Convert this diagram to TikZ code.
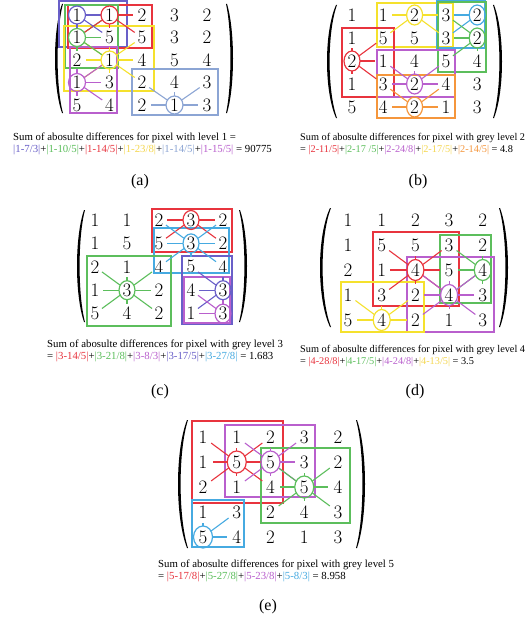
\documentclass[tikz,border=0pt]{standalone}
\usepackage{fontspec}
\newfontfamily\capfam{Liberation Serif}
\usetikzlibrary{shapes.geometric}

\definecolor{cRed}{RGB}{232,52,62}
\definecolor{cGreen}{RGB}{92,190,92}
\definecolor{cYellow}{RGB}{245,225,45}
\definecolor{cYellowText}{RGB}{245,215,80}
\definecolor{cSlate}{RGB}{105,95,200}
\definecolor{cSteel}{RGB}{140,165,212}
\definecolor{cPurple}{RGB}{185,95,205}
\definecolor{cSky}{RGB}{70,170,225}
\definecolor{cOrange}{RGB}{245,150,60}

% 5x5 grey-level matrix, one ellipse-shaped node per entry: #1 prefix, #2/#3 first entry, #4/#5 spacing
\newcommand\panel[5]{%
  \foreach \row [count=\r] in {{1,1,2,3,2},{1,5,5,3,2},{2,1,4,5,4},{1,3,2,4,3},{5,4,2,1,3}}{%
    \foreach \v [count=\c] in \row {%
      \node[digit] (#1-\r-\c) at ({#2+(\c-1)*#4},{#3+(\r-1)*#5}) {\v};
    }}}
% connectors from a centre entry to its neighbours
\newcommand\spokes[3]{\foreach \t in {#3}{\draw[spoke,#1] (#2) -- (\t);}}
% ring round a centre entry
\newcommand\ring[2]{\draw[ringline,#1] (#2.center) ellipse [x radius=\rx, y radius=\ry];}
% tapered matrix bracket: #1 end x, #2 middle x, #3 top y, #4 bottom y, #5 +1 left / -1 right
\newcommand\bigparen[5]{%
  \fill[black] ({#1},{#3})
    .. controls ({(4*(#2)-(#1))/3},{#3+0.24*(#4-#3)}) and ({(4*(#2)-(#1))/3},{#4-0.24*(#4-#3)}) .. ({#1},{#4})
    -- ({#1+(#5)*1.0},{#4})
    .. controls ({(4*(#2+(#5)*2.6)-(#1+(#5)*1.0))/3},{#4-0.24*(#4-#3)}) and ({(4*(#2+(#5)*2.6)-(#1+(#5)*1.0))/3},{#3+0.24*(#4-#3)}) .. ({#1+(#5)*1.0},{#3})
    -- cycle;}
\newcommand\term[2]{\textcolor{#1}{|#2|}}

\begin{document}
\begin{tikzpicture}[x=1pt,y=-1pt,
  digit/.style={shape=ellipse, inner sep=0pt, minimum width=\dw, minimum height=\dh,
                font=\fontsize{19}{19}\selectfont},
  spoke/.style={line width=1.1pt},
  frame/.style={line width=1.2pt},
  ringline/.style={line width=1.2pt},
  caption/.style={font=\capfam\fontsize{10.8}{12}\selectfont, inner sep=0pt, anchor=base west},
  narrowcaption/.style={caption, font=\capfam\fontsize{10.3}{12}\selectfont},
  tag/.style={font=\capfam\fontsize{16}{16}\selectfont, inner sep=0pt}]

\fill[white] (0,0) rectangle (527,626);
\useasboundingbox (0,0) rectangle (527,626);

%% ---------------- (a) level 1 ----------------
\def\dw{17pt}\def\dh{18pt}\def\rx{8.5pt}\def\ry{9pt}
\panel{a}{77}{15}{32.5}{22.5}
\bigparen{62}{55}{4}{113}{1}
\bigparen{227}{233}{4}{113}{-1}
\draw[frame,cSlate]  (59,1) rectangle (127,47);
\draw[frame,cRed]    (68,5) rectangle (152,48);
\draw[frame,cGreen]  (65,5) rectangle (118,68);
\draw[frame,cYellow] (64,26) rectangle (154,91);
\draw[frame,cPurple] (70,47) rectangle (117,113);
\draw[frame,cSteel]  (132,69) rectangle (218,115);
\spokes{cYellow}{a-3-2}{a-2-1,a-2-2,a-2-3,a-3-1,a-3-3,a-4-1,a-4-2,a-4-3}
\spokes{cGreen}{a-2-1}{a-1-1,a-1-2,a-2-2,a-3-1,a-3-2}
\spokes{cRed}{a-1-2}{a-1-1,a-1-3,a-2-1,a-2-2,a-2-3}
\spokes{cSlate}{a-1-1}{a-1-2,a-2-1,a-2-2}
\spokes{cPurple}{a-4-1}{a-3-1,a-3-2,a-4-2,a-5-1,a-5-2}
\spokes{cSteel}{a-5-4}{a-4-3,a-4-4,a-4-5,a-5-3,a-5-5}
\ring{cSlate}{a-1-1}\ring{cRed}{a-1-2}\ring{cGreen}{a-2-1}
\ring{cYellow}{a-3-2}\ring{cPurple}{a-4-1}\ring{cSteel}{a-5-4}
\node[caption] (a-t1) at (13,140) {Sum of abosulte differences for pixel with level 1 =};
\node[caption] (a-t2) at (13,152) {\term{cSlate}{1-7/3}+\term{cGreen}{1-10/5}+\term{cRed}{1-14/5}+\term{cYellowText}{1-23/8}+\term{cSteel}{1-14/5}+\term{cPurple}{1-15/5} = 90775};
\node[tag] (a-tag) at (140,182) {(a)};

%% ---------------- (b) level 2 ----------------
\def\dw{16pt}\def\dh{20pt}\def\rx{8pt}\def\ry{10pt}
\panel{b}{352}{15}{31.3}{23}
\bigparen{336}{327}{5}{118}{1}
\bigparen{494}{502}{5}{118}{-1}
\draw[frame,cYellow] (377,3) rectangle (453,47);
\draw[frame,cSky]    (437,1) rectangle (485,48);
\draw[frame,cGreen]  (438,2) rectangle (486,72);
\draw[frame,cRed]    (342,28) rectangle (394,97);
\draw[frame,cPurple] (377,50) rectangle (455,97);
\draw[frame,cOrange] (377,75) rectangle (455,118);
\spokes{cYellow}{b-1-3}{b-1-2,b-1-4,b-2-2,b-2-4}
\spokes{cSky}{b-1-5}{b-1-4,b-2-4}
\spokes{cGreen}{b-2-5}{b-1-4,b-2-4,b-3-4,b-3-5}
\spokes{cRed}{b-3-1}{b-2-1,b-2-2,b-3-2,b-4-1,b-4-2}
\spokes{cPurple}{b-4-3}{b-3-2,b-3-3,b-3-4,b-4-2,b-4-4}
\spokes{cOrange}{b-5-3}{b-4-2,b-4-4,b-5-2,b-5-4}
\ring{cYellow}{b-1-3}\ring{cSky}{b-1-5}\ring{cGreen}{b-2-5}
\ring{cRed}{b-3-1}\ring{cPurple}{b-4-3}\ring{cOrange}{b-5-3}
\node[narrowcaption] (b-t1) at (300,140) {Sum of abosulte differences for pixel with grey level 2};
\node[narrowcaption] (b-t2) at (300,152) {= \term{cRed}{2-11/5}+\term{cGreen}{2-17 /5}+\term{cPurple}{2-24/8}+\term{cYellowText}{2-17/5}+\term{cOrange}{2-14/5} = 4.8};
\node[tag] (b-tag) at (418,182) {(b)};

%% ---------------- (c) level 3 ----------------
\def\dw{16pt}\def\dh{19pt}\def\rx{8pt}\def\ry{9.5pt}
\panel{c}{95}{220}{32}{23.4}
\bigparen{84}{77}{210}{322}{1}
\bigparen{240}{247}{210}{322}{-1}
\draw[frame,cRed]    (152,209) rectangle (232,252);
\draw[frame,cSky]    (154,228) rectangle (229,273);
\draw[frame,cGreen]  (87,256) rectangle (171,326);
\draw[frame,cSlate]  (182,256) rectangle (232,324);
\draw[frame,cPurple] (184,277) rectangle (230,323);
\spokes{cRed}{c-1-4}{c-1-3,c-1-5,c-2-3,c-2-5}
\spokes{cSky}{c-2-4}{c-1-3,c-1-5,c-2-3,c-2-5,c-3-3,c-3-5,c-3-4}
\spokes{cGreen}{c-4-2}{c-3-1,c-3-2,c-3-3,c-4-1,c-4-3,c-5-1,c-5-2,c-5-3}
\spokes{cSlate}{c-4-5}{c-3-4,c-3-5,c-4-4,c-5-4}
\spokes{cPurple}{c-5-5}{c-4-4,c-4-5,c-5-4}
\ring{cRed}{c-1-4}\ring{cSky}{c-2-4}\ring{cGreen}{c-4-2}
\ring{cSlate}{c-4-5}\ring{cPurple}{c-5-5}
\node[caption] (c-t1) at (47,347) {Sum of abosulte differences for pixel with grey level 3};
\node[caption] (c-t2) at (47,359) {= \term{cRed}{3-14/5}+\term{cGreen}{3-21/8}+\term{cPurple}{3-8/3}+\term{cSlate}{3-17/5}+\term{cSky}{3-27/8} = 1.683};
\node[tag] (c-tag) at (160,392) {(c)};

%% ---------------- (d) level 4 ----------------
\def\dw{17pt}\def\dh{21pt}\def\rx{8.5pt}\def\ry{10.5pt}
\panel{d}{348}{220}{33.7}{25}
\bigparen{330}{320}{208}{327}{1}
\bigparen{500}{508}{208}{327}{-1}
\draw[frame,cRed]    (373,232) rectangle (459,306);
\draw[frame,cGreen]  (440,235) rectangle (491,303);
\draw[frame,cPurple] (407,257) rectangle (494,332);
\draw[frame,cYellow] (341,282) rectangle (424,332);
\spokes{cRed}{d-3-3}{d-2-2,d-2-3,d-2-4,d-3-2,d-3-4,d-4-2,d-4-3,d-4-4}
\spokes{cGreen}{d-3-5}{d-2-4,d-2-5,d-3-4,d-4-4,d-4-5}
\spokes{cPurple}{d-4-4}{d-3-3,d-3-4,d-3-5,d-4-3,d-4-5,d-5-3,d-5-4,d-5-5}
\spokes{cYellow}{d-5-2}{d-4-1,d-4-2,d-4-3,d-5-1,d-5-3}
\ring{cRed}{d-3-3}\ring{cGreen}{d-3-5}\ring{cPurple}{d-4-4}\ring{cYellow}{d-5-2}
\node[narrowcaption] (d-t1) at (300,352) {Sum of abosulte differences for pixel with grey level 4};
\node[narrowcaption] (d-t2) at (300,364) {= \term{cRed}{4-28/8}+\term{cGreen}{4-17/5}+\term{cPurple}{4-24/8}+\term{cYellowText}{4-13/5} = 3.5};
\node[tag] (d-tag) at (415,392) {(d)};

%% ---------------- (e) level 5 ----------------
\def\dw{19pt}\def\dh{22pt}\def\rx{9.5pt}\def\ry{11pt}
\panel{e}{203}{437}{33.75}{25}
\bigparen{187}{178}{420}{548}{1}
\bigparen{357}{365}{420}{548}{-1}
\draw[frame,cRed]    (192,421) rectangle (283,503);
\draw[frame,cPurple] (225,425) rectangle (315,497);
\draw[frame,cGreen]  (261,448) rectangle (350,523);
\draw[frame,cSky]    (192,500) rectangle (244,547);
\spokes{cRed}{e-2-2}{e-1-1,e-1-2,e-1-3,e-2-1,e-2-3,e-3-1,e-3-2,e-3-3}
\spokes{cPurple}{e-2-3}{e-1-2,e-1-3,e-1-4,e-2-4,e-3-2,e-3-3,e-3-4}
\spokes{cGreen}{e-3-4}{e-2-3,e-2-4,e-2-5,e-3-3,e-3-5,e-4-3,e-4-4,e-4-5}
\spokes{cSky}{e-5-1}{e-4-1,e-4-2,e-5-2}
\ring{cRed}{e-2-2}\ring{cPurple}{e-2-3}\ring{cGreen}{e-3-4}\ring{cSky}{e-5-1}
\node[caption] (e-t1) at (158,567) {Sum of abosulte differences for pixel with grey level 5};
\node[caption] (e-t2) at (158,579) {= \term{cRed}{5-17/8}+\term{cGreen}{5-27/8}+\term{cPurple}{5-23/8}+\term{cSky}{5-8/3} = 8.958};
\node[tag] (e-tag) at (268,607) {(e)};
\end{tikzpicture}
\end{document}
